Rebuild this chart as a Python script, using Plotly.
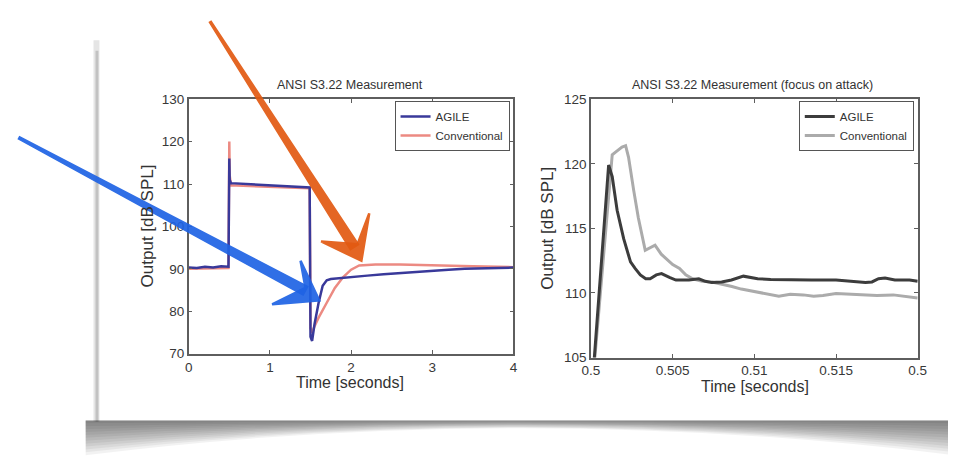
import numpy as np
import plotly.graph_objects as go

# ---- data ----
# left panel: full measurement, 0-4 s
t_agile = [0, 0.1, 0.2, 0.3, 0.4, 0.49, 0.5, 0.505, 0.52, 0.7, 0.9, 1.1, 1.3, 1.49,
           1.5, 1.52, 1.55, 1.6, 1.65, 1.7, 1.75, 1.85, 2.0, 2.2, 2.4, 2.6, 2.8,
           3.0, 3.2, 3.4, 3.6, 3.8, 4.0]
v_agile = [90.3, 90.2, 90.5, 90.3, 90.6, 90.5, 116.0, 111.0, 110.2, 110.0, 109.8, 109.6, 109.4, 109.2,
           74.0, 73.0, 77.0, 82.0, 86.0, 87.3, 87.6, 87.8, 88.1, 88.4, 88.7, 89.0, 89.3,
           89.5, 89.8, 90.0, 90.1, 90.3, 90.3]

t_conv = [0, 0.2, 0.4, 0.49, 0.5, 0.505, 0.52, 0.8, 1.1, 1.49, 1.5, 1.52, 1.55, 1.6,
          1.7, 1.8, 1.9, 2.0, 2.1, 2.3, 2.6, 3.0, 3.5, 4.0]
v_conv = [90.0, 90.1, 90.2, 90.2, 120.0, 112.0, 109.7, 109.5, 109.3, 109.0, 76.0, 75.0, 76.5, 78.5,
          82.0, 85.5, 88.0, 89.8, 90.8, 91.0, 91.0, 90.9, 90.6, 90.4]

# right panel: focus on attack, 0.5-0.52 s
tz_agile = [0.5, 0.50108, 0.5013, 0.5016, 0.502, 0.50242, 0.5027, 0.50302, 0.50335, 0.50362,
            0.504, 0.50432, 0.5048, 0.5052, 0.506, 0.5066, 0.507, 0.5074, 0.508, 0.5086,
            0.50933, 0.5098, 0.5102, 0.511, 0.5122, 0.5135, 0.515, 0.516, 0.5168, 0.5172,
            0.5176, 0.518, 0.5186, 0.5195, 0.52]
vz_agile = [101.5, 119.9, 119.0, 116.4, 114.2, 112.4, 111.9, 111.4, 111.1, 111.1,
            111.4, 111.5, 111.2, 111.0, 111.0, 111.1, 110.9, 110.8, 110.85, 111.0,
            111.3, 111.2, 111.1, 111.05, 111.0, 111.0, 111.0, 110.9, 110.8, 110.85,
            111.1, 111.15, 111.0, 111.0, 110.9]

tz_conv = [0.5, 0.5013, 0.5016, 0.5019, 0.50212, 0.5023, 0.50262, 0.5029, 0.50332, 0.5036,
           0.50392, 0.5043, 0.50462, 0.505, 0.50542, 0.5058, 0.50622, 0.5068, 0.5074, 0.508,
           0.50863, 0.5092, 0.50983, 0.5104, 0.51093, 0.5115, 0.5122, 0.513, 0.51363, 0.5142,
           0.515, 0.5158, 0.5165, 0.5175, 0.5185, 0.5195, 0.52]
vz_conv = [101.5, 120.7, 121.0, 121.3, 121.4, 120.5, 117.9, 115.8, 113.3, 113.5,
           113.7, 113.0, 112.6, 112.2, 111.9, 111.4, 111.1, 110.9, 110.85, 110.7,
           110.5, 110.3, 110.15, 110.0, 109.9, 109.75, 109.9, 109.85, 109.75, 109.8,
           109.95, 109.9, 109.85, 109.8, 109.85, 109.7, 109.6]

left_yticks = [70, 80, 90, 100, 110, 120, 130]
left_xticks = [0, 1, 2, 3, 4]
right_yticks = [105, 110, 115, 120, 125]
right_xticks = [0.5, 0.505, 0.51, 0.515, 0.52]
right_xlabels = ["0.5", "0.505", "0.51", "0.515", "0.5"]  # last label is cut off in the source

W, H = 956, 463
OX, OY = 8, 8  # page body margin
FONT = "Liberation Sans, Arial, sans-serif"


def px(x, y):
    # screen pixel position -> paper coords
    return (x - OX) / W, 1 - (y - OY) / H


def xdom(a, b):
    return [px(a, 0)[0], px(b, 0)[0]]


def ydom(top, bottom):
    return [px(0, bottom)[1], px(0, top)[1]]


def path(points, close=True):
    s = ""
    for i, (x, y) in enumerate(points):
        fx, fy = px(x, y)
        s += ("M" if i == 0 else " L") + f" {fx:.5f},{fy:.5f}"
    return s + (" Z" if close else "")


fig = go.Figure()

# left panel
fig.add_trace(go.Scatter(x=t_conv, y=v_conv, name="Conventional", mode="lines",
                         line=dict(color="#ec8a82", width=2.5), legendrank=2,
                         xaxis="x", yaxis="y", legend="legend"))
fig.add_trace(go.Scatter(x=t_agile, y=v_agile, name="AGILE", mode="lines",
                         line=dict(color="#39399a", width=2.5), legendrank=1,
                         xaxis="x", yaxis="y", legend="legend"))

# right panel
fig.add_trace(go.Scatter(x=tz_conv, y=vz_conv, name="Conventional", mode="lines",
                         line=dict(color="#ababab", width=3), legendrank=2,
                         xaxis="x2", yaxis="y2", legend="legend2"))
fig.add_trace(go.Scatter(x=tz_agile, y=vz_agile, name="AGILE", mode="lines",
                         line=dict(color="#3c3c3c", width=3), legendrank=1,
                         xaxis="x2", yaxis="y2", legend="legend2"))

axis_style = dict(showline=True, linecolor="#5e5e5e", linewidth=1.5, mirror="ticks",
                  ticks="inside", ticklen=4, tickcolor="#5e5e5e", showgrid=False,
                  zeroline=False, tickfont=dict(family=FONT, size=13.5, color="#383838"))

legend_style = dict(yanchor="top", xanchor="right", bgcolor="white", bordercolor="#555",
                    borderwidth=1, font=dict(family=FONT, size=11.5, color="#333"),
                    itemwidth=30, tracegroupgap=0)

fig.update_layout(
    width=W, height=H, autosize=False,
    margin=dict(l=0, r=0, t=0, b=0),
    paper_bgcolor="white", plot_bgcolor="white",
    xaxis=dict(domain=xdom(183, 514), range=[0, 4], tickvals=left_xticks,
               anchor="y", **axis_style),
    yaxis=dict(domain=ydom(95, 358), range=[70, 130], tickvals=left_yticks,
               anchor="x", **axis_style),
    xaxis2=dict(domain=xdom(593, 926), range=[0.5, 0.52], tickvals=right_xticks,
                ticktext=right_xlabels, anchor="y2", **axis_style),
    yaxis2=dict(domain=ydom(95, 362), range=[105, 125], tickvals=right_yticks,
                anchor="x2", **axis_style),
    legend=dict(x=px(510, 0)[0], y=px(0, 97)[1], **legend_style),
    legend2=dict(x=px(922, 0)[0], y=px(0, 97)[1], **legend_style),
    showlegend=True,
)

# titles and axis labels
texts = [
    ("ANSI S3.22 Measurement", 347, 80, 12.5, 0),
    ("ANSI S3.22 Measurement (focus on attack)", 758, 80, 12.5, 0),
    ("Time [seconds]", 347, 388, 16, 0),
    ("Time [seconds]", 760, 392, 16, 0),
    ("Output [dB SPL]", 141, 226, 17, -90),
    ("Output [dB SPL]", 549, 228, 17, -90),
]
for txt, x, y, size, ang in texts:
    fx, fy = px(x, y)
    fig.add_annotation(text=txt, x=fx, y=fy, xref="paper", yref="paper",
                       showarrow=False, textangle=ang, xanchor="center", yanchor="middle",
                       font=dict(family=FONT, size=size, color="#333"))

shapes = []

# card edge + drop shadow
shapes.append(dict(type="path", path=path([(86, 34), (92, 34), (92, 428), (86, 428)]),
                   xref="paper", yref="paper", fillcolor="rgba(150,150,150,0.25)",
                   line=dict(width=0), layer="below"))
shapes.append(dict(type="path", path=path([(88, 45), (91, 45), (91, 428), (88, 428)]),
                   xref="paper", yref="paper", fillcolor="rgba(130,130,130,0.35)",
                   line=dict(width=0), layer="below"))
n_layers = 12
for k in range(1, n_layers + 1):
    de = 36 * k / n_layers
    dc = 8 * k / n_layers
    cy = 427 + 2 * dc - de
    x0, x1, xm = 78, 964, 520
    fa, fb = px(x0, 427), px(x1, 427)
    fc, fd = px(x1, 427 + de), px(x0, 427 + de)
    fq = px(xm, cy)
    p = (f"M {fa[0]:.5f},{fa[1]:.5f} L {fb[0]:.5f},{fb[1]:.5f} L {fc[0]:.5f},{fc[1]:.5f} "
         f"Q {fq[0]:.5f},{fq[1]:.5f} {fd[0]:.5f},{fd[1]:.5f} Z")
    shapes.append(dict(type="path", path=p, xref="paper", yref="paper",
                       fillcolor="rgba(0,0,0,0.05)", line=dict(width=0), layer="below"))


def arrow(tail, tip, w0, w1, head, color):
    tail = np.array(tail, float)
    tip = np.array(tip, float)
    d = tip - tail
    n = np.array([-d[1], d[0]]) / np.hypot(*d)
    shaft = [tail + n * w0 / 2, tip + n * w1 / 2, tip - n * w1 / 2, tail - n * w0 / 2]
    out = [dict(type="path", path=path(shaft), xref="paper", yref="paper",
                fillcolor=color, line=dict(color=color, width=1.5), layer="above", opacity=0.92)]
    out.append(dict(type="path", path=path(head), xref="paper", yref="paper",
                    fillcolor=color, line=dict(color=color, width=2.5), layer="above", opacity=0.92))
    return out


shapes += arrow((10, 135), (302, 293), 2.5, 10,
                [(297, 262), (302, 290), (268, 307), (316, 303)], "#1f63e4")
shapes += arrow((205, 15), (352, 248), 2, 10,
                [(367, 213), (355, 245), (318, 242), (359, 262)], "#e25a12")

fig.update_layout(shapes=shapes)

fig.write_html("out.html")
